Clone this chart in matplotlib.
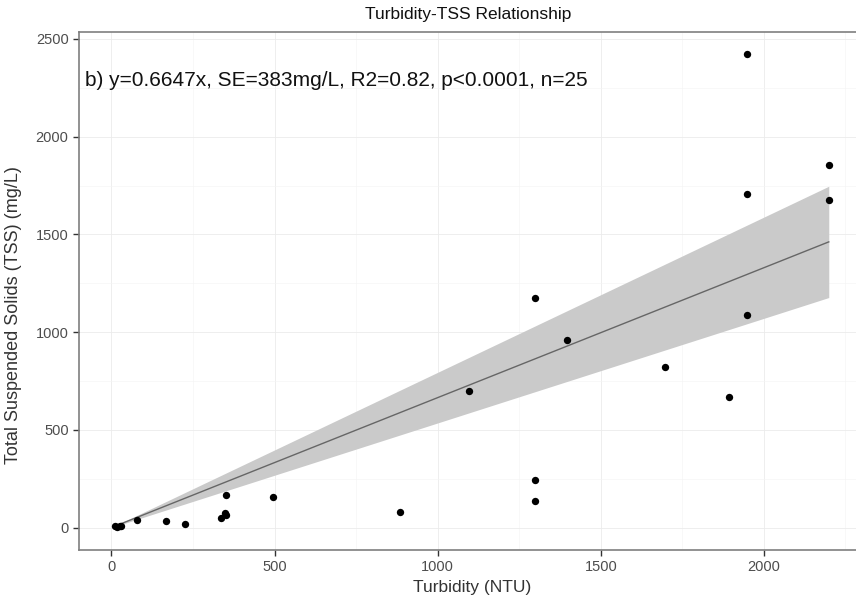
import numpy as np
import matplotlib.pyplot as plt

# turbidity (NTU) vs total suspended solids (mg/L)
turbidity = [10, 18, 25, 30, 78, 168, 226, 335, 348, 352, 495, 884, 1095,
             1297, 1297, 1297, 1398, 1697, 1893, 1948, 1948, 1948, 2199, 2199, 352]
tss = [8, 5, 10, 6, 36, 31, 20, 50, 75, 164, 154, 82, 697,
       1173, 241, 138, 958, 820, 666, 2423, 1706, 1086, 1855, 1675, 62]

slope = 0.6647
band = 0.1295   # half-width of the confidence band per unit x
label = "b) y=0.6647x, SE=383mg/L, R2=0.82, p<0.0001, n=25"

plt.rcParams['font.family'] = ['Liberation Sans', 'DejaVu Sans']

fig = plt.figure(figsize=(8.56, 6.05), dpi=100)
ax = fig.add_axes([0.0923, 0.0909, 0.918, 0.856])

xs = np.linspace(min(turbidity), max(turbidity), 200)
ax.fill_between(xs, (slope - band) * xs, (slope + band) * xs,
                color="#cacaca", lw=0, zorder=2)
ax.plot(xs, slope * xs, color="#666666", lw=1.0, zorder=3)
ax.scatter(turbidity, tss, s=28, color="black", zorder=4, lw=0)

ax.set_xlim(-99.5, 2309.5)
ax.set_ylim(-115, 2535)
ax.set_xticks([0, 500, 1000, 1500, 2000])
ax.set_yticks([0, 500, 1000, 1500, 2000, 2500])
ax.set_xticks([250, 750, 1250, 1750, 2250], minor=True)
ax.set_yticks([250, 750, 1250, 1750, 2250], minor=True)
ax.grid(which="major", color="#ebebeb", lw=0.6, zorder=0)
ax.grid(which="minor", color="#f4f4f4", lw=0.4, zorder=0)
ax.set_axisbelow(True)
ax.tick_params(which="minor", length=0)
ax.tick_params(which="major", length=4, width=1, color="#333333",
               labelsize=10.5, labelcolor="#4d4d4d")
for s in ["left", "bottom", "top"]:
    ax.spines[s].set_color("#7f7f7f")
    ax.spines[s].set_linewidth(1.2)
ax.spines["right"].set_visible(False)

ax.text(-80, 2290, label, fontsize=15, color="#111111", va="center")
ax.set_xlabel("Turbidity (NTU)", fontsize=12.5, color="#333333")
ax.set_ylabel("Total Suspended Solids (TSS) (mg/L)", fontsize=13, color="#333333")
ax.yaxis.set_label_coords(-0.0725, 0.454)
fig.text(0.547, 0.976, "Turbidity-TSS Relationship", fontsize=12.5,
         ha="center", va="center", color="#111111")

plt.savefig("out.png")
plt.close()
